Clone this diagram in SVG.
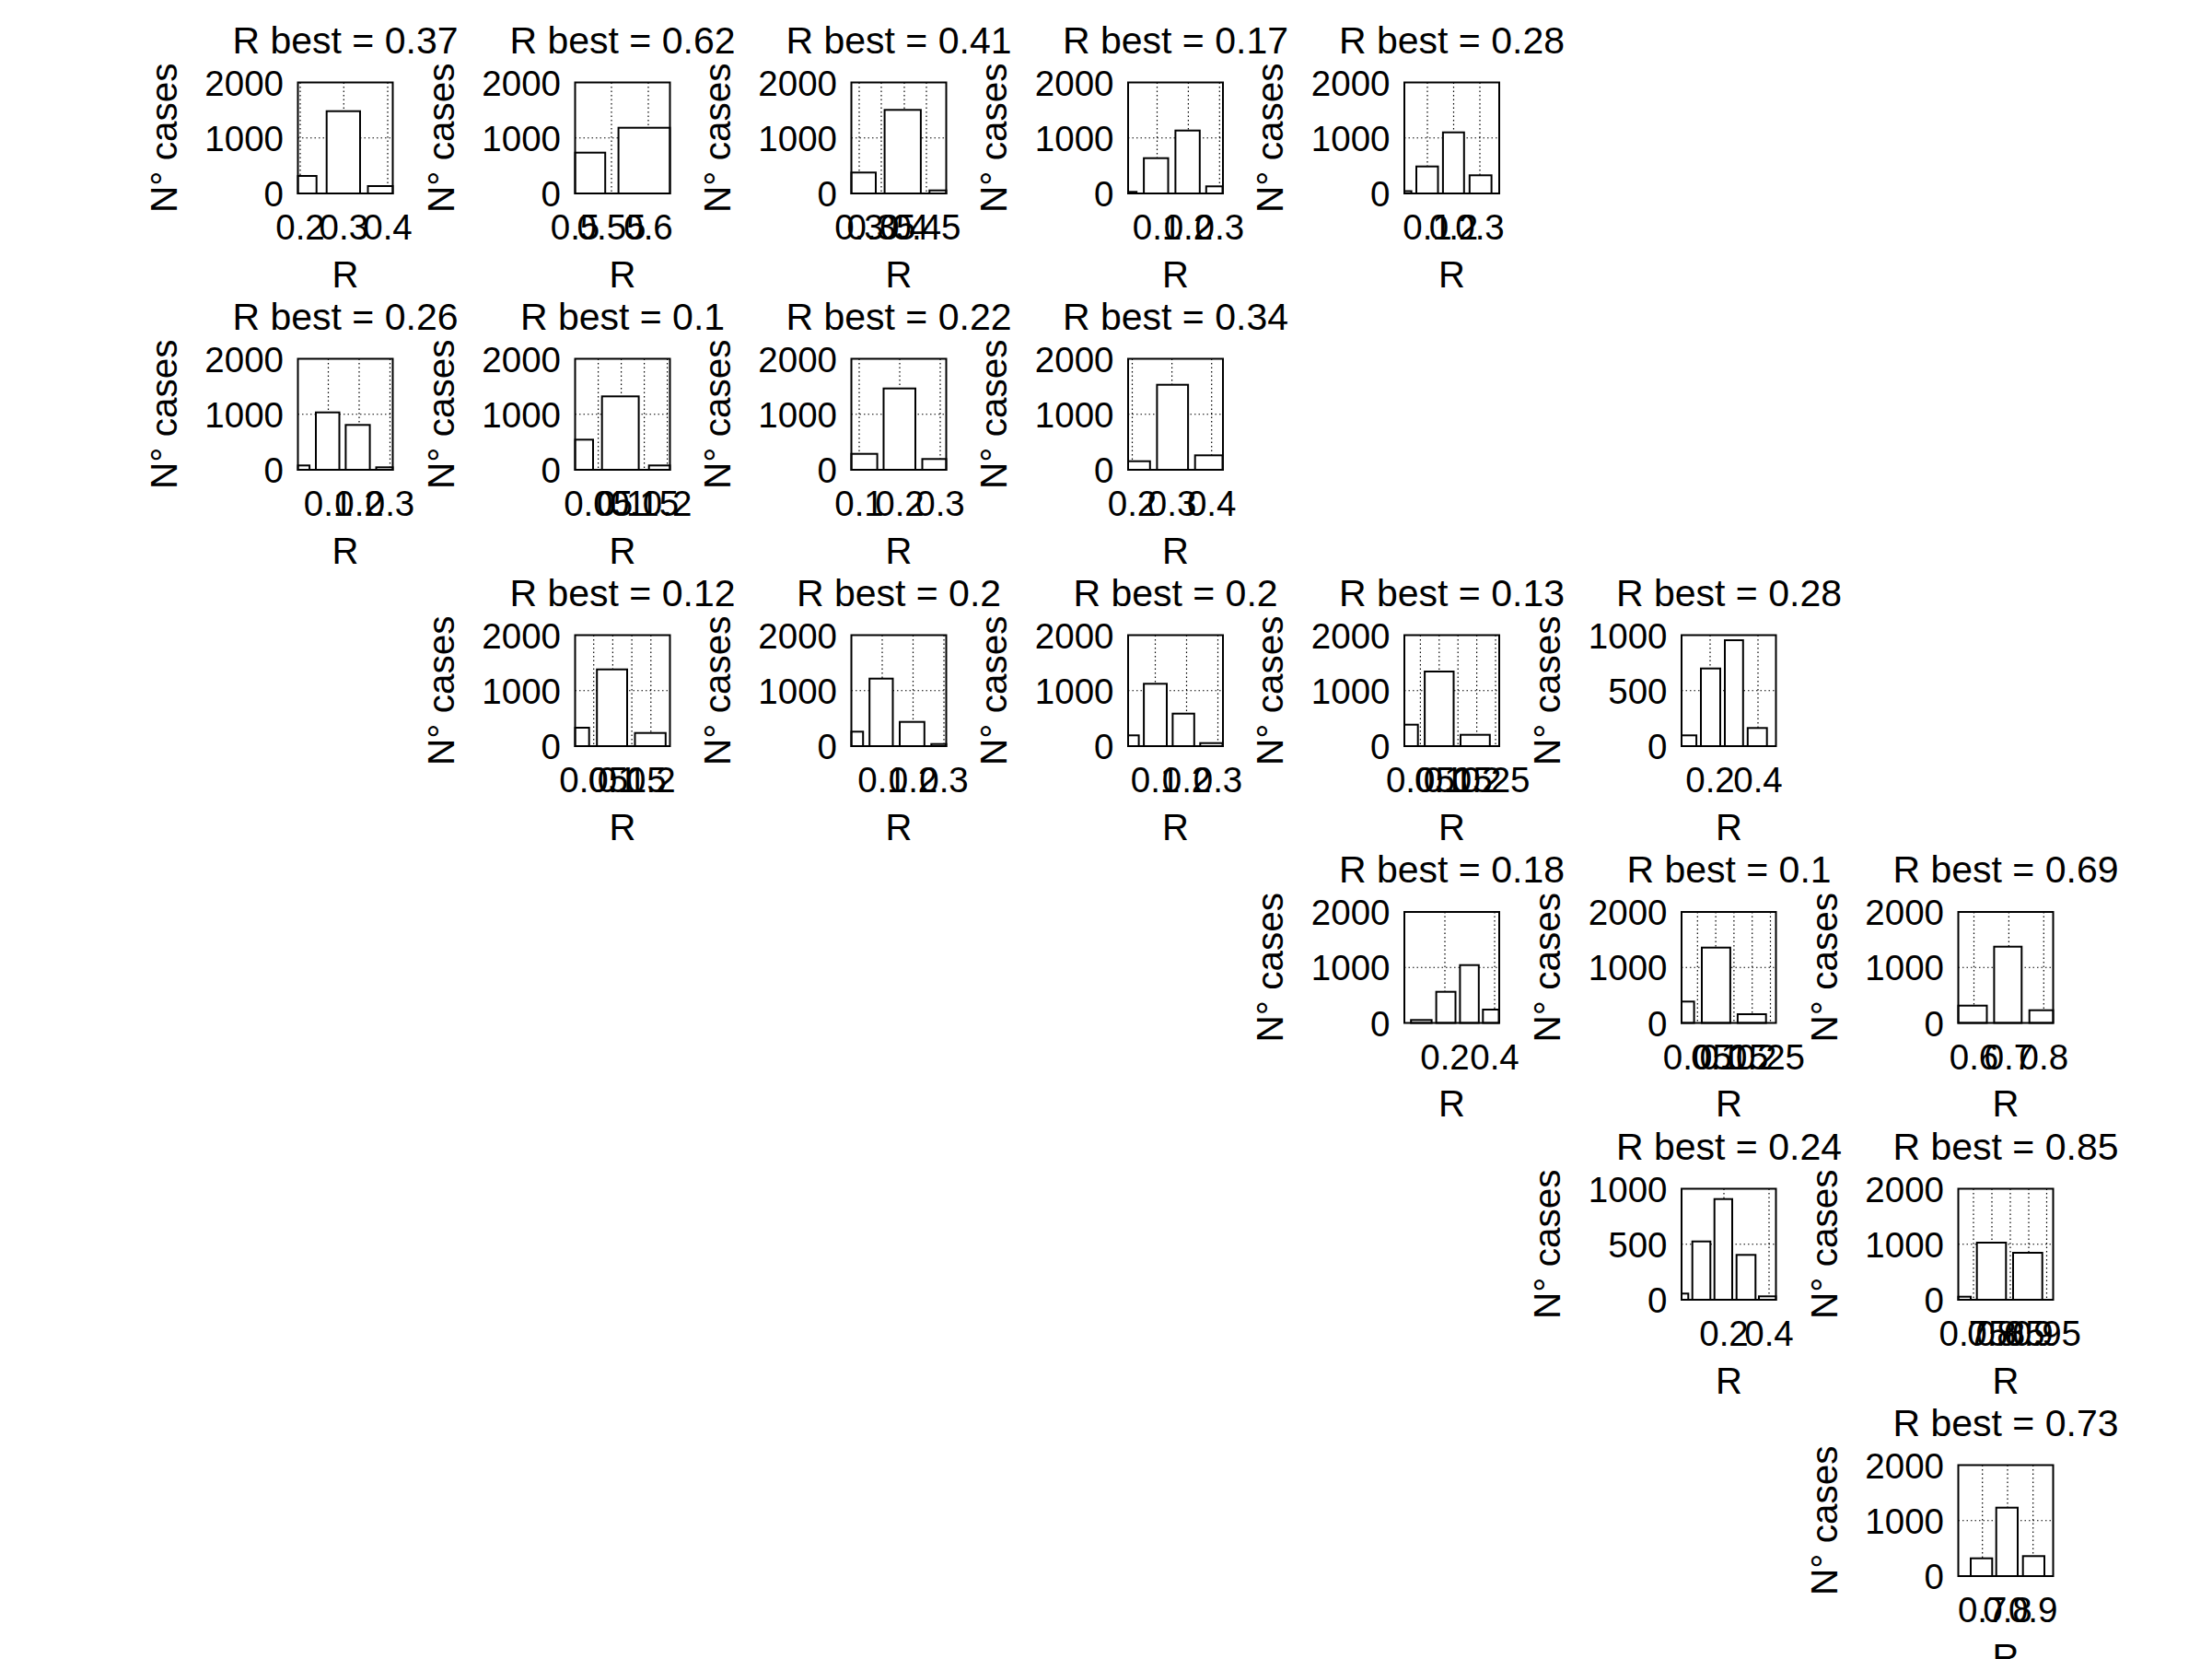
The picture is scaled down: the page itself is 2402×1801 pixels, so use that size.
<svg xmlns="http://www.w3.org/2000/svg" width="2402" height="1801" viewBox="0 0 2402 1801">
<style>
text{font-family:"Liberation Sans",Arial,Helvetica,sans-serif;fill:#000}
.ti{font-size:41px;text-anchor:middle}
.yt{font-size:38.5px;text-anchor:end}
.xt{font-size:38.5px;text-anchor:middle}
.xl{font-size:40px;text-anchor:middle}
.yl{font-size:40.5px;text-anchor:middle}
.box{fill:none;stroke:#000;stroke-width:2}
.bar{fill:#fff;stroke:#000;stroke-width:2}
.g{stroke:#000;stroke-width:1.2;stroke-dasharray:1.5 3;fill:none}
</style>
<rect width="2402" height="1801" fill="#fff"/>

<!-- Row 1 -->
<g id="r1c1">
<text class="ti" x="375" y="57.7">R best = 0.37</text>
<text class="yt" x="308" y="103.5">2000</text><text class="yt" x="308" y="163.75">1000</text><text class="yt" x="308" y="224">0</text>
<text class="yl" transform="translate(191.5,149.75) rotate(-90)">N° cases</text>
<path class="g" d="M323.5 149.75H426.5M326 89.5V210M373.3 89.5V210M421 89.5V210"/>
<rect class="bar" x="323.5" y="191" width="20.2" height="19"/>
<rect class="bar" x="354.7" y="120.7" width="36.3" height="89.3"/>
<rect class="bar" x="399.5" y="202" width="27" height="8"/>
<rect class="box" x="323.5" y="89.5" width="103" height="120.5"/>
<text class="xt" x="326" y="260">0.2</text><text class="xt" x="373.3" y="260">0.3</text><text class="xt" x="421" y="260">0.4</text>
<text class="xl" x="375" y="311.5">R</text>
</g>

<g id="r1c2">
<text class="ti" x="676" y="57.7">R best = 0.62</text>
<text class="yt" x="609" y="103.5">2000</text><text class="yt" x="609" y="163.75">1000</text><text class="yt" x="609" y="224">0</text>
<text class="yl" transform="translate(492.5,149.75) rotate(-90)">N° cases</text>
<path class="g" d="M624.5 149.75H727.5M664 89.5V210M704 89.5V210"/>
<rect class="bar" x="624.5" y="165.7" width="32.7" height="44.3"/>
<rect class="bar" x="671.6" y="138.7" width="55.9" height="71.3"/>
<rect class="box" x="624.5" y="89.5" width="103" height="120.5"/>
<text class="xt" x="624.5" y="260">0.5</text><text class="xt" x="664" y="260">0.55</text><text class="xt" x="704" y="260">0.6</text>
<text class="xl" x="676" y="311.5">R</text>
</g>

<g id="r1c3">
<text class="ti" x="976" y="57.7">R best = 0.41</text>
<text class="yt" x="909" y="103.5">2000</text><text class="yt" x="909" y="163.75">1000</text><text class="yt" x="909" y="224">0</text>
<text class="yl" transform="translate(792.5,149.75) rotate(-90)">N° cases</text>
<path class="g" d="M924.5 149.75H1027.5M933 89.5V210M957 89.5V210M982 89.5V210M1006 89.5V210"/>
<rect class="bar" x="924.5" y="187.3" width="26.5" height="22.7"/>
<rect class="bar" x="960.6" y="119.3" width="39.3" height="90.7"/>
<rect class="bar" x="1009.3" y="206.7" width="18.2" height="3.3"/>
<rect class="box" x="924.5" y="89.5" width="103" height="120.5"/>
<text class="xt" x="933" y="260">0.3</text><text class="xt" x="957" y="260">0.35</text><text class="xt" x="982" y="260">0.4</text><text class="xt" x="1006" y="260">0.45</text>
<text class="xl" x="976" y="311.5">R</text>
</g>

<g id="r1c4">
<text class="ti" x="1276.5" y="57.7">R best = 0.17</text>
<text class="yt" x="1209.5" y="103.5">2000</text><text class="yt" x="1209.5" y="163.75">1000</text><text class="yt" x="1209.5" y="224">0</text>
<text class="yl" transform="translate(1093,149.75) rotate(-90)">N° cases</text>
<path class="g" d="M1225 149.75H1328M1256.5 89.5V210M1290.4 89.5V210M1324.3 89.5V210"/>
<rect class="bar" x="1225" y="208.3" width="9.2" height="1.7"/>
<rect class="bar" x="1242.1" y="171.7" width="26.4" height="38.3"/>
<rect class="bar" x="1276.4" y="141.7" width="26.4" height="68.3"/>
<rect class="bar" x="1309.8" y="202.3" width="17.7" height="7.7"/>
<rect class="box" x="1225" y="89.5" width="103" height="120.5"/>
<text class="xt" x="1256.5" y="260">0.1</text><text class="xt" x="1290.4" y="260">0.2</text><text class="xt" x="1324.3" y="260">0.3</text>
<text class="xl" x="1276.5" y="311.5">R</text>
</g>

<g id="r1c5">
<text class="ti" x="1576.5" y="57.7">R best = 0.28</text>
<text class="yt" x="1509.5" y="103.5">2000</text><text class="yt" x="1509.5" y="163.75">1000</text><text class="yt" x="1509.5" y="224">0</text>
<text class="yl" transform="translate(1393,149.75) rotate(-90)">N° cases</text>
<path class="g" d="M1525 149.75H1628M1550 89.5V210M1578.5 89.5V210M1607 89.5V210"/>
<rect class="bar" x="1525" y="207.5" width="7.6" height="2.5"/>
<rect class="bar" x="1538" y="180.7" width="23.5" height="29.3"/>
<rect class="bar" x="1566.9" y="143.7" width="22.9" height="66.3"/>
<rect class="bar" x="1595.8" y="190.3" width="23.8" height="19.7"/>
<rect class="box" x="1525" y="89.5" width="103" height="120.5"/>
<text class="xt" x="1550" y="260">0.1</text><text class="xt" x="1578.5" y="260">0.2</text><text class="xt" x="1607" y="260">0.3</text>
<text class="xl" x="1576.5" y="311.5">R</text>
</g>

<!-- Row 2 -->
<g id="r2c1">
<text class="ti" x="375" y="357.7">R best = 0.26</text>
<text class="yt" x="308" y="403.5">2000</text><text class="yt" x="308" y="463.75">1000</text><text class="yt" x="308" y="524">0</text>
<text class="yl" transform="translate(191.5,449.75) rotate(-90)">N° cases</text>
<path class="g" d="M323.5 449.75H426.5M356.5 389.5V510M390 389.5V510M423.5 389.5V510"/>
<rect class="bar" x="323.5" y="505.3" width="12.6" height="4.7"/>
<rect class="bar" x="343" y="447.7" width="25.5" height="62.3"/>
<rect class="bar" x="375.4" y="461.3" width="26.2" height="48.7"/>
<rect class="bar" x="408.5" y="507.3" width="18" height="2.7"/>
<rect class="box" x="323.5" y="389.5" width="103" height="120.5"/>
<text class="xt" x="356.5" y="560">0.1</text><text class="xt" x="390" y="560">0.2</text><text class="xt" x="423.5" y="560">0.3</text>
<text class="xl" x="375" y="611.5">R</text>
</g>

<g id="r2c2">
<text class="ti" x="676" y="357.7">R best = 0.1</text>
<text class="yt" x="609" y="403.5">2000</text><text class="yt" x="609" y="463.75">1000</text><text class="yt" x="609" y="524">0</text>
<text class="yl" transform="translate(492.5,449.75) rotate(-90)">N° cases</text>
<path class="g" d="M624.5 449.75H727.5M649.6 389.5V510M674.6 389.5V510M699.6 389.5V510M724.6 389.5V510"/>
<rect class="bar" x="624.5" y="477.3" width="19.5" height="32.7"/>
<rect class="bar" x="653.7" y="430.3" width="39.9" height="79.7"/>
<rect class="bar" x="704.7" y="505.3" width="22.8" height="4.7"/>
<rect class="box" x="624.5" y="389.5" width="103" height="120.5"/>
<text class="xt" x="649.6" y="560">0.05</text><text class="xt" x="674.6" y="560">0.1</text><text class="xt" x="699.6" y="560">0.15</text><text class="xt" x="724.6" y="560">0.2</text>
<text class="xl" x="676" y="611.5">R</text>
</g>

<g id="r2c3">
<text class="ti" x="976" y="357.7">R best = 0.22</text>
<text class="yt" x="909" y="403.5">2000</text><text class="yt" x="909" y="463.75">1000</text><text class="yt" x="909" y="524">0</text>
<text class="yl" transform="translate(792.5,449.75) rotate(-90)">N° cases</text>
<path class="g" d="M924.5 449.75H1027.5M933 389.5V510M977 389.5V510M1021 389.5V510"/>
<rect class="bar" x="924.5" y="492.7" width="28.1" height="17.3"/>
<rect class="bar" x="959.5" y="421.7" width="34.5" height="88.3"/>
<rect class="bar" x="1001.5" y="498.3" width="26" height="11.7"/>
<rect class="box" x="924.5" y="389.5" width="103" height="120.5"/>
<text class="xt" x="933" y="560">0.1</text><text class="xt" x="977" y="560">0.2</text><text class="xt" x="1021" y="560">0.3</text>
<text class="xl" x="976" y="611.5">R</text>
</g>

<g id="r2c4">
<text class="ti" x="1276.5" y="357.7">R best = 0.34</text>
<text class="yt" x="1209.5" y="403.5">2000</text><text class="yt" x="1209.5" y="463.75">1000</text><text class="yt" x="1209.5" y="524">0</text>
<text class="yl" transform="translate(1093,449.75) rotate(-90)">N° cases</text>
<path class="g" d="M1225 449.75H1328M1229.5 389.5V510M1272.6 389.5V510M1315.7 389.5V510"/>
<rect class="bar" x="1225" y="500.7" width="23.8" height="9.3"/>
<rect class="bar" x="1256.4" y="417.7" width="33.7" height="92.3"/>
<rect class="bar" x="1297.7" y="494.3" width="29.8" height="15.7"/>
<rect class="box" x="1225" y="389.5" width="103" height="120.5"/>
<text class="xt" x="1229.5" y="560">0.2</text><text class="xt" x="1272.6" y="560">0.3</text><text class="xt" x="1315.7" y="560">0.4</text>
<text class="xl" x="1276.5" y="611.5">R</text>
</g>

<!-- Row 3 -->
<g id="r3c2">
<text class="ti" x="676" y="657.7">R best = 0.12</text>
<text class="yt" x="609" y="703.5">2000</text><text class="yt" x="609" y="763.75">1000</text><text class="yt" x="609" y="824">0</text>
<text class="yl" transform="translate(492.5,749.75) rotate(-90)">N° cases</text>
<path class="g" d="M624.5 749.75H727.5M644.7 689.5V810M665.4 689.5V810M686.1 689.5V810M706.8 689.5V810"/>
<rect class="bar" x="624.5" y="790" width="15.2" height="20"/>
<rect class="bar" x="648.2" y="726.7" width="32.8" height="83.3"/>
<rect class="bar" x="689.5" y="795.7" width="33.3" height="14.3"/>
<rect class="box" x="624.5" y="689.5" width="103" height="120.5"/>
<text class="xt" x="644.7" y="860">0.05</text><text class="xt" x="665.4" y="860">0.1</text><text class="xt" x="686.1" y="860">0.15</text><text class="xt" x="706.8" y="860">0.2</text>
<text class="xl" x="676" y="911.5">R</text>
</g>

<g id="r3c3">
<text class="ti" x="976" y="657.7">R best = 0.2</text>
<text class="yt" x="909" y="703.5">2000</text><text class="yt" x="909" y="763.75">1000</text><text class="yt" x="909" y="824">0</text>
<text class="yl" transform="translate(792.5,749.75) rotate(-90)">N° cases</text>
<path class="g" d="M924.5 749.75H1027.5M958 689.5V810M991.5 689.5V810M1025 689.5V810"/>
<rect class="bar" x="924.5" y="794.3" width="12.7" height="15.7"/>
<rect class="bar" x="944.2" y="736.7" width="25.3" height="73.3"/>
<rect class="bar" x="977" y="783.7" width="26.8" height="26.3"/>
<rect class="bar" x="1011.3" y="807.7" width="16.2" height="2.3"/>
<rect class="box" x="924.5" y="689.5" width="103" height="120.5"/>
<text class="xt" x="958" y="860">0.1</text><text class="xt" x="991.5" y="860">0.2</text><text class="xt" x="1025" y="860">0.3</text>
<text class="xl" x="976" y="911.5">R</text>
</g>

<g id="r3c4">
<text class="ti" x="1276.5" y="657.7">R best = 0.2</text>
<text class="yt" x="1209.5" y="703.5">2000</text><text class="yt" x="1209.5" y="763.75">1000</text><text class="yt" x="1209.5" y="824">0</text>
<text class="yl" transform="translate(1093,749.75) rotate(-90)">N° cases</text>
<path class="g" d="M1225 749.75H1328M1254.5 689.5V810M1288.5 689.5V810M1322.5 689.5V810"/>
<rect class="bar" x="1225" y="798.3" width="11.6" height="11.7"/>
<rect class="bar" x="1242.1" y="742.3" width="24.9" height="67.7"/>
<rect class="bar" x="1273.4" y="774.7" width="23.4" height="35.3"/>
<rect class="bar" x="1303.3" y="806.7" width="24.2" height="3.3"/>
<rect class="box" x="1225" y="689.5" width="103" height="120.5"/>
<text class="xt" x="1254.5" y="860">0.1</text><text class="xt" x="1288.5" y="860">0.2</text><text class="xt" x="1322.5" y="860">0.3</text>
<text class="xl" x="1276.5" y="911.5">R</text>
</g>

<g id="r3c5">
<text class="ti" x="1576.5" y="657.7">R best = 0.13</text>
<text class="yt" x="1509.5" y="703.5">2000</text><text class="yt" x="1509.5" y="763.75">1000</text><text class="yt" x="1509.5" y="824">0</text>
<text class="yl" transform="translate(1393,749.75) rotate(-90)">N° cases</text>
<path class="g" d="M1525 749.75H1628M1542.4 689.5V810M1562.8 689.5V810M1583.2 689.5V810M1603.6 689.5V810M1624 689.5V810"/>
<rect class="bar" x="1525" y="786.7" width="14.7" height="23.3"/>
<rect class="bar" x="1547.1" y="729" width="31.4" height="81"/>
<rect class="bar" x="1586" y="797.7" width="31.8" height="12.3"/>
<rect class="box" x="1525" y="689.5" width="103" height="120.5"/>
<text class="xt" x="1542.4" y="860">0.05</text><text class="xt" x="1562.8" y="860">0.1</text><text class="xt" x="1583.2" y="860">0.15</text><text class="xt" x="1603.6" y="860">0.2</text><text class="xt" x="1624" y="860">0.25</text>
<text class="xl" x="1576.5" y="911.5">R</text>
</g>

<g id="r3c6">
<text class="ti" x="1877.5" y="657.7">R best = 0.28</text>
<text class="yt" x="1810.5" y="703.5">1000</text><text class="yt" x="1810.5" y="763.75">500</text><text class="yt" x="1810.5" y="824">0</text>
<text class="yl" transform="translate(1694,749.75) rotate(-90)">N° cases</text>
<path class="g" d="M1826 749.75H1929M1857 689.5V810M1909 689.5V810"/>
<rect class="bar" x="1826" y="798.3" width="16.1" height="11.7"/>
<rect class="bar" x="1847" y="725.7" width="21" height="84.3"/>
<rect class="bar" x="1873" y="695" width="19.8" height="115"/>
<rect class="bar" x="1897.8" y="790.3" width="20.9" height="19.7"/>
<rect class="box" x="1826" y="689.5" width="102.5" height="120.5"/>
<text class="xt" x="1857" y="860">0.2</text><text class="xt" x="1909" y="860">0.4</text>
<text class="xl" x="1877.5" y="911.5">R</text>
</g>

<!-- Row 4 -->
<g id="r4c5">
<text class="ti" x="1576.5" y="958.2">R best = 0.18</text>
<text class="yt" x="1509.5" y="1004">2000</text><text class="yt" x="1509.5" y="1064.25">1000</text><text class="yt" x="1509.5" y="1124.5">0</text>
<text class="yl" transform="translate(1393,1050.25) rotate(-90)">N° cases</text>
<path class="g" d="M1525 1050.25H1628M1569 990V1110.5M1623 990V1110.5"/>
<rect class="bar" x="1532.2" y="1107.3" width="22.4" height="3.2"/>
<rect class="bar" x="1559.6" y="1076.7" width="20.9" height="33.8"/>
<rect class="bar" x="1585.4" y="1047.7" width="20.4" height="62.8"/>
<rect class="bar" x="1610.3" y="1096" width="17.2" height="14.5"/>
<rect class="box" x="1525" y="990" width="103" height="120.5"/>
<text class="xt" x="1569" y="1160.5">0.2</text><text class="xt" x="1623" y="1160.5">0.4</text>
<text class="xl" x="1576.5" y="1212">R</text>
</g>

<g id="r4c6">
<text class="ti" x="1877.5" y="958.2">R best = 0.1</text>
<text class="yt" x="1810.5" y="1004">2000</text><text class="yt" x="1810.5" y="1064.25">1000</text><text class="yt" x="1810.5" y="1124.5">0</text>
<text class="yl" transform="translate(1694,1050.25) rotate(-90)">N° cases</text>
<path class="g" d="M1826 1050.25H1929M1843.3 990V1110.5M1863.1 990V1110.5M1882.9 990V1110.5M1902.7 990V1110.5M1922.5 990V1110.5"/>
<rect class="bar" x="1826" y="1087.3" width="13.6" height="23.2"/>
<rect class="bar" x="1848" y="1028.7" width="30.9" height="81.8"/>
<rect class="bar" x="1886.9" y="1101" width="30.8" height="9.5"/>
<rect class="box" x="1826" y="990" width="102.5" height="120.5"/>
<text class="xt" x="1843.3" y="1160.5">0.05</text><text class="xt" x="1863.1" y="1160.5">0.1</text><text class="xt" x="1882.9" y="1160.5">0.15</text><text class="xt" x="1902.7" y="1160.5">0.2</text><text class="xt" x="1922.5" y="1160.5">0.25</text>
<text class="xl" x="1877.5" y="1212">R</text>
</g>

<g id="r4c7">
<text class="ti" x="2178" y="958.2">R best = 0.69</text>
<text class="yt" x="2111" y="1004">2000</text><text class="yt" x="2111" y="1064.25">1000</text><text class="yt" x="2111" y="1124.5">0</text>
<text class="yl" transform="translate(1994.5,1050.25) rotate(-90)">N° cases</text>
<path class="g" d="M2126.5 1050.25H2229.5M2143.5 990V1110.5M2181.4 990V1110.5M2219.3 990V1110.5"/>
<rect class="bar" x="2126.5" y="1091.7" width="31" height="18.8"/>
<rect class="bar" x="2165.4" y="1027.7" width="29.9" height="82.8"/>
<rect class="bar" x="2203.7" y="1096.7" width="25.8" height="13.8"/>
<rect class="box" x="2126.5" y="990" width="103" height="120.5"/>
<text class="xt" x="2143.5" y="1160.5">0.6</text><text class="xt" x="2181.4" y="1160.5">0.7</text><text class="xt" x="2219.3" y="1160.5">0.8</text>
<text class="xl" x="2178" y="1212">R</text>
</g>

<!-- Row 5 -->
<g id="r5c6">
<text class="ti" x="1877.5" y="1258.7">R best = 0.24</text>
<text class="yt" x="1810.5" y="1304.5">1000</text><text class="yt" x="1810.5" y="1364.75">500</text><text class="yt" x="1810.5" y="1425">0</text>
<text class="yl" transform="translate(1694,1350.75) rotate(-90)">N° cases</text>
<path class="g" d="M1826 1350.75H1929M1872 1290.5V1411M1921 1290.5V1411"/>
<rect class="bar" x="1826" y="1404.3" width="7.3" height="6.7"/>
<rect class="bar" x="1837.7" y="1347.7" width="19.6" height="63.3"/>
<rect class="bar" x="1861.7" y="1301.7" width="19.3" height="109.3"/>
<rect class="bar" x="1885.7" y="1362.3" width="20.6" height="48.7"/>
<rect class="bar" x="1910" y="1407.3" width="18.5" height="3.7"/>
<rect class="box" x="1826" y="1290.5" width="102.5" height="120.5"/>
<text class="xt" x="1872" y="1461">0.2</text><text class="xt" x="1921" y="1461">0.4</text>
<text class="xl" x="1877.5" y="1512.5">R</text>
</g>

<g id="r5c7">
<text class="ti" x="2178" y="1258.7">R best = 0.85</text>
<text class="yt" x="2111" y="1304.5">2000</text><text class="yt" x="2111" y="1364.75">1000</text><text class="yt" x="2111" y="1425">0</text>
<text class="yl" transform="translate(1994.5,1350.75) rotate(-90)">N° cases</text>
<path class="g" d="M2126.5 1350.75H2229.5M2143 1290.5V1411M2163 1290.5V1411M2183 1290.5V1411M2203 1290.5V1411M2222.5 1290.5V1411"/>
<rect class="bar" x="2126.5" y="1407.7" width="13.5" height="3.3"/>
<rect class="bar" x="2146.7" y="1349" width="31.6" height="62"/>
<rect class="bar" x="2186" y="1360" width="31.7" height="51"/>
<rect class="box" x="2126.5" y="1290.5" width="103" height="120.5"/>
<text class="xt" x="2143" y="1461">0.75</text><text class="xt" x="2163" y="1461">0.8</text><text class="xt" x="2183" y="1461">0.85</text><text class="xt" x="2203" y="1461">0.9</text><text class="xt" x="2222.5" y="1461">0.95</text>
<text class="xl" x="2178" y="1512.5">R</text>
</g>

<!-- Row 6 -->
<g id="r6c7">
<text class="ti" x="2178" y="1558.7">R best = 0.73</text>
<text class="yt" x="2111" y="1604.5">2000</text><text class="yt" x="2111" y="1664.75">1000</text><text class="yt" x="2111" y="1725">0</text>
<text class="yl" transform="translate(1994.5,1650.75) rotate(-90)">N° cases</text>
<path class="g" d="M2126.5 1650.75H2229.5M2152.7 1590.5V1711M2180 1590.5V1711M2207.7 1590.5V1711"/>
<rect class="bar" x="2140" y="1691.7" width="23.3" height="19.3"/>
<rect class="bar" x="2167.7" y="1636.7" width="23.3" height="74.3"/>
<rect class="bar" x="2196.7" y="1689.3" width="23.3" height="21.7"/>
<rect class="box" x="2126.5" y="1590.5" width="103" height="120.5"/>
<text class="xt" x="2152.7" y="1761">0.7</text><text class="xt" x="2180" y="1761">0.8</text><text class="xt" x="2207.7" y="1761">0.9</text>
<text class="xl" x="2178" y="1812.5">R</text>
</g>
</svg>
